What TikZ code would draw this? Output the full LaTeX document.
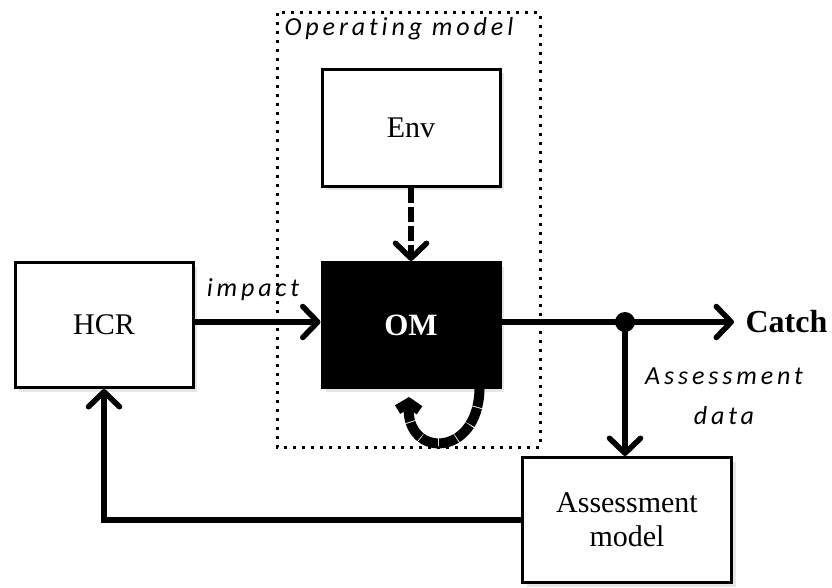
\documentclass[tikz,border=0pt]{standalone}
\usepackage{fontspec}
\setmainfont{Liberation Serif}
\newfontfamily\lblfont[LetterSpace=15, Ligatures=CommonOff]{Carlito}
\usetikzlibrary{arrows.meta,shadows,calc}

\begin{document}
\begin{tikzpicture}[x=1pt, y=-1pt,
    main/.style = {draw, line width=3pt, fill=white, minimum width=178pt, minimum height=125pt,
        font=\fontsize{30}{35}\selectfont, align=center,
        drop shadow={opacity=0.2, shadow xshift=4pt, shadow yshift=-4pt}},
    lbl/.style = {font=\lblfont\itshape\fontsize{26}{31}\selectfont, align=center},
    conn/.style = {line width=5.5pt, -{Straight Barb[length=15pt, width=31pt, line cap=round, line join=round]}},
    dconn/.style = {conn, dash pattern=on 15pt off 4pt}]
    \useasboundingbox (0,0) rectangle (832,588);
    % operating model frame
    \draw[line width=3pt, dash pattern=on 3pt off 6pt] (277,13) rectangle (540,447);
    \node[lbl, anchor=west] (oplbl) at (281,29) {Operating model};
    \node[main, minimum height=117pt] (env) at (411,128) {Env};
    \node[main, fill=black, text=white, font=\fontsize{31}{35}\selectfont\bfseries] (om) at (411,325) {OM};
    \node[main] (hcr) at (104,325) {HCR};
    \node[main, minimum width=209pt] (am) at (627,520) {Assessment\\[-1pt]model};
    \coordinate (split) at (625,322);
    \coordinate (tip) at (734,322);
    \node[anchor=west, font=\fontsize{32}{36}\selectfont\bfseries] (catch) at (742,322) {Catch};
    \node[lbl] (implbl) at (253,290) {impact};
    \node[lbl, align=center] (adlbl) at (724,396) {Assessment\\[9pt]data};
    \draw[conn] (hcr.east |- split) -- (om.west |- split);
    \draw[conn] (om.east |- split) -- (tip);
    \fill (split) circle (10pt);
    \draw[conn] (split) -- (split |- am.north);
    \draw[conn, line cap=round] (am.west) -| (hcr.south);
    \draw[dconn] (env) -- (om);
    \draw[dconn, line width=10pt, dash pattern=on 18pt off 1pt,
        -{Straight Barb[length=7pt, width=22pt]}]
        ($(om.south east)+(-22,0)$) .. controls (478,458) and (407,458) .. (409,397);
\end{tikzpicture}
\end{document}
